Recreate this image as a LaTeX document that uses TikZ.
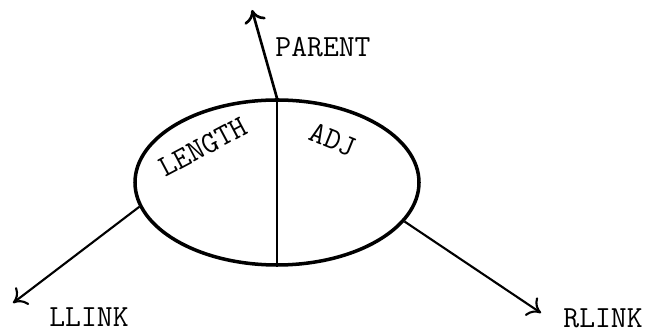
\documentclass[tikz,border=0pt]{standalone}
\usepackage{xcolor}
\usepackage{tikz}
\usetikzlibrary{shapes.geometric, arrows.meta, positioning}

\begin{document}
\begin{tikzpicture}[every node/.style={font=\ttfamily\fontsize{17.5}{20}\selectfont},
    link/.style={line width=1.2pt, -{To[length=2.5mm,width=4.4mm]}}]
    \useasboundingbox (0,0) rectangle (12.94,6.62);

    % Nodo
    \node[ellipse, draw, line width=2pt, minimum width=5.68cm, minimum height=3.3cm] (cell) at (5.54,2.97) {};
    \draw[line width=1.5pt] (cell.north) -- (cell.south);
    \node[rotate=28, inner sep=1pt] (length) at (4.06,3.68) {LENGTH};
    \node[rotate=-22, inner sep=1pt] (adj) at (6.66,3.82) {ADJ};

    % Puntatori
    \coordinate (ptop) at (5.04,6.42);
    \coordinate (pleft) at (0.26,0.56);
    \coordinate (pright) at (10.82,0.36);
    \draw[link, line width=1.5pt] (cell.north) -- (ptop);
    \draw[link] (cell.190) -- (pleft);
    \draw[link] (cell.343) -- (pright);

    \node (parent) at (6.46,5.68) {PARENT};
    \node (llink) at (1.78,0.27) {LLINK};
    \node (rlink) at (12.06,0.26) {RLINK};
\end{tikzpicture}
\end{document}
